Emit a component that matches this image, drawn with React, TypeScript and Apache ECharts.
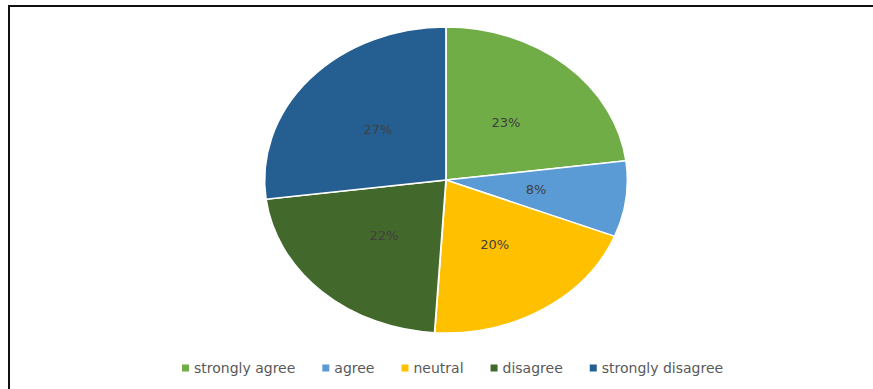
import React, { useEffect, useRef } from "react";
import * as echarts from "echarts";

const categories = ["strongly agree", "agree", "neutral", "disagree", "strongly disagree"];
const percentages = [23, 8, 20, 22, 27];
const colors = ["#70AD47", "#5B9BD5", "#FFC000", "#43682B", "#255E91"];

export default function App() {
  const ref = useRef<HTMLDivElement>(null);
  useEffect(() => {
    const chart = echarts.init(ref.current!, null, { renderer: "svg" });
    const total = percentages.reduce((a, b) => a + b, 0);
    const CX = 446, CY = 180, RY = 153, SX = 181.5 / 153;
    const series = categories.map((name, i) => ({
      type: "custom",
      name,
      coordinateSystem: "none",
      data: [[percentages[i]]],
      itemStyle: { color: colors[i] },
      renderItem: (params: any, api: any) => {
        const before = percentages.slice(0, i).reduce((a, b) => a + b, 0);
        const v = api.value(0);
        const start = -Math.PI / 2 + (2 * Math.PI * before) / total;
        const end = start + (2 * Math.PI * v) / total;
        const mid = (start + end) / 2;
        return {
          type: "group",
          children: [
            {
              type: "sector",
              x: CX,
              y: CY,
              scaleX: SX,
              shape: { cx: 0, cy: 0, r0: 0, r: RY, startAngle: start, endAngle: end, clockwise: true },
              style: { fill: colors[i], stroke: "#ffffff", lineWidth: 1.5, strokeNoScale: true },
            },
            {
              type: "text",
              x: CX + SX * 0.5 * RY * Math.cos(mid),
              y: CY + 0.5 * RY * Math.sin(mid),
              style: {
                text: v + "%",
                fill: "#404040",
                fontFamily: "DejaVu Sans",
                fontSize: 13,
                align: "center",
                verticalAlign: "middle",
              },
            },
          ],
        };
      },
    }));
    chart.setOption({
      animation: false,
      legend: {
        data: categories,
        top: 356,
        left: 177,
        icon: "rect",
        itemWidth: 7,
        itemHeight: 7,
        itemGap: 27,
        selectedMode: false,
        textStyle: { fontFamily: "DejaVu Sans", fontSize: 14, color: "#595959" },
      },
      graphic: [
        { type: "line", shape: { x1: 8, y1: 6, x2: 873, y2: 6 }, style: { stroke: "#111", lineWidth: 2 } },
        { type: "line", shape: { x1: 9, y1: 5, x2: 9, y2: 389 }, style: { stroke: "#111", lineWidth: 2 } },
      ],
      series,
    } as any);
    return () => chart.dispose();
  }, []);
  return (
    <div
      ref={ref}
      style={{ position: "absolute", left: 0, top: 0, width: 873, height: 389, background: "#fff" }}
    />
  );
}
